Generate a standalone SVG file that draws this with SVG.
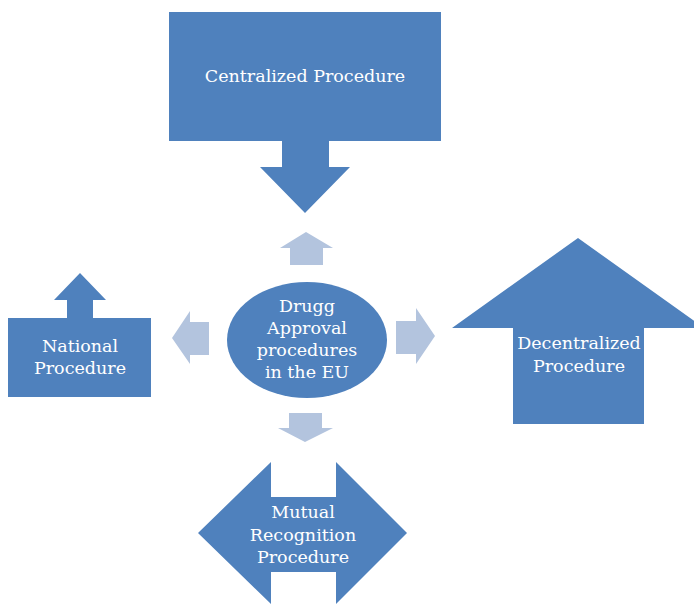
<svg xmlns="http://www.w3.org/2000/svg" width="694" height="604" viewBox="0 0 694 604">
<style>
.dark{fill:#4F81BD;}
.light{fill:#B3C4DE;}
text{font-family:"DejaVu Serif","Liberation Serif",serif;font-size:17.5px;fill:#FFFFFF;text-anchor:middle;}
</style>
<rect width="694" height="604" fill="#FFFFFF"/>
<g id="centralized">
<path class="dark" d="M169,12 H441 V141 H329 V167 H350 L305,213 L260,167 H282 V141 H169 Z"/>
<text x="305" y="82">Centralized Procedure</text>
</g>
<g id="national">
<path class="dark" d="M8,318 H67 V300 H54 L80,273 L106,300 H93 V318 H151 V397 H8 Z"/>
<text x="80" y="352">National</text>
<text x="80" y="374">Procedure</text>
</g>
<g id="decentralized">
<path class="dark" d="M452,328 L578,238 L704,328 H644 V424 H513 V328 Z"/>
<text x="579" y="349">Decentralized</text>
<text x="579" y="372">Procedure</text>
</g>
<g id="mutual">
<path class="dark" d="M198,533 L271,462 V497 H336 V462 L407,533 L336,604 V572 H271 V604 Z"/>
<text x="303" y="518">Mutual</text>
<text x="303" y="541">Recognition</text>
<text x="303" y="563">Procedure</text>
</g>
<g id="center">
<ellipse class="dark" cx="307" cy="340" rx="80" ry="58"/>
<text x="307" y="312">Drugg</text>
<text x="307" y="334">Approval</text>
<text x="307" y="356">procedures</text>
<text x="307" y="378">in the EU</text>
</g>
<g id="connectors">
<path class="light" d="M290,265 V248 H280 L306,232 L333,248 H323 V265 Z"/>
<path class="light" d="M209,322 H190 V311 L172,338 L190,364 V355 H209 Z"/>
<path class="light" d="M396,321 H416 V308 L435,336 L416,364 V354 H396 Z"/>
<path class="light" d="M289,413 H322 V428 H333 L305,442 L278,428 H289 Z"/>
</g>
</svg>
